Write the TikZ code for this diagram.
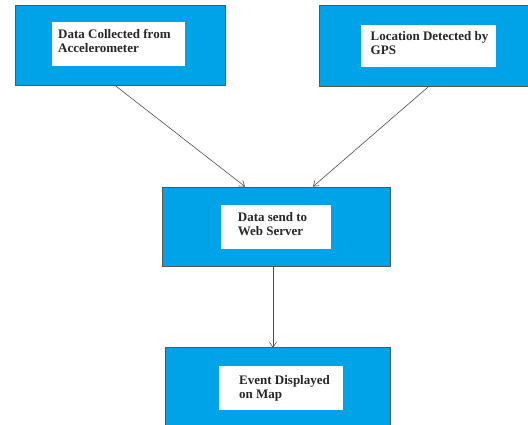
\documentclass[tikz,border=0pt]{standalone}
\usepackage{fontspec}
\setmainfont{Liberation Serif}
\usetikzlibrary{arrows.meta}
\definecolor{boxblue}{RGB}{0,162,232}
\definecolor{edgegray}{RGB}{85,85,85}
\tikzset{
  outerbox/.style={draw=edgegray, line width=0.8pt, fill=boxblue, inner sep=0pt},
  openbox/.style={fill=boxblue, inner sep=0pt},
  edgeline/.style={draw=edgegray, line width=0.8pt},
  innerbox/.style={fill=white, draw=none, inner sep=0pt},
  label/.style={anchor=base west, inner sep=0pt, align=left, font=\fontsize{13}{14}\selectfont\bfseries, text=black!85},
  conn/.style={draw=black!70, line width=0.6pt, -{Straight Barb[length=5pt,width=7pt]}}
}
\begin{document}
\begin{tikzpicture}[x=1pt,y=-1pt]
\useasboundingbox (0,0) rectangle (528,425);
\clip (0,0) rectangle (528,425);
% outer boxes
\node[outerbox, minimum width=210pt, minimum height=80pt] (b1) at (120,45) {};
\node[openbox, minimum width=230pt, minimum height=80pt] (b2) at (435,46) {};
\draw[edgeline] (b2.north east) -- (b2.north west) -- (b2.south west) -- (b2.south east);
\node[outerbox, minimum width=228pt, minimum height=79pt] (b3) at (276,226.5) {};
\node[openbox, minimum width=224pt, minimum height=92pt] (b4) at (278,394) {};
\draw[edgeline] (b4.south west) -- (b4.north west) -- (b4.north east) -- (b4.south east);
% inner white boxes
\node[innerbox, minimum width=133pt, minimum height=44pt] (w1) at (118.5,44) {};
\node[innerbox, minimum width=135pt, minimum height=42pt] (w2) at (428.5,46) {};
\node[innerbox, minimum width=110pt, minimum height=44pt] (w3) at (276,227) {};
\node[innerbox, minimum width=124pt, minimum height=44pt] (w4) at (281,388) {};
% labels (base anchor = baseline of last line)
\node[label] (t1) at (58,52.3) {Data Collected from\\Accelerometer};
\node[label] (t2) at (370.5,54.5) {Location Detected by\\GPS};
\node[label] (t3) at (237.7,235.7) {Data send to\\Web Server};
\node[label] (t4) at (239,398.3) {Event Displayed\\on Map};
% connectors
\draw[conn] ([xshift=-5pt]b1.south) -- ([xshift=-31pt]b3.north);
\draw[conn] ([xshift=-6pt]b2.south) -- ([xshift=37pt]b3.north);
\draw[conn] ([xshift=-3pt]b3.south) -- ([xshift=-5pt]b4.north);
\end{tikzpicture}
\end{document}
